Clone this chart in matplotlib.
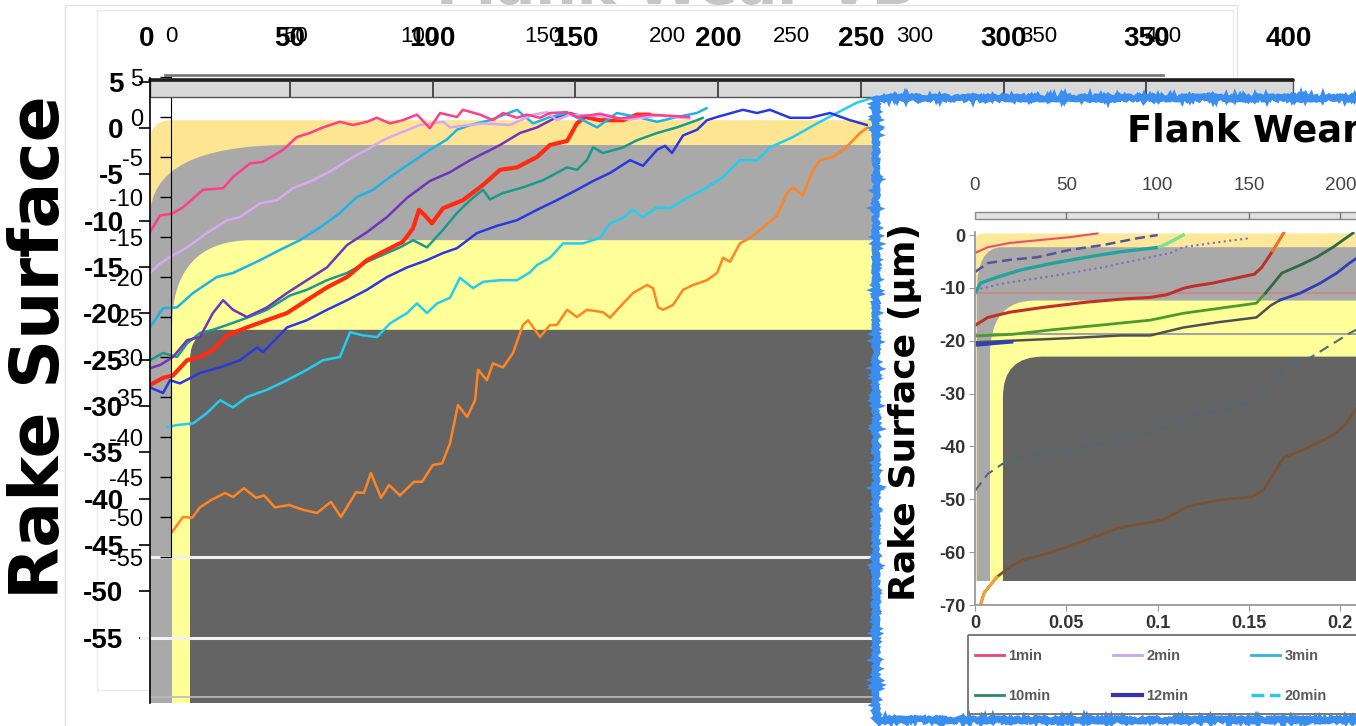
import matplotlib
matplotlib.use("Agg")
import matplotlib.pyplot as plt
from matplotlib import font_manager
from matplotlib.patches import FancyBboxPatch, Rectangle
from matplotlib.lines import Line2D

W, H, DPI = 1356, 726, 100

_names = {f.name for f in font_manager.fontManager.ttflist}
NUM_FONT = "Liberation Sans Narrow" if "Liberation Sans Narrow" in _names else "Liberation Sans"
plt.rcParams["font.family"] = [NUM_FONT, "DejaVu Sans"]
plt.rcParams["axes.unicode_minus"] = False

# ---- main panel series (flank wear vs rake surface) ----
pink_x = [-8.5, -4.4, 0.4, 4.8, 12.9, 21, 25, 31.9, 37.1, 45.2, 50.8, 56, 61.3, 68.1, 73.4, 79, 83, 88.3, 93.5,
          99.2, 104.4, 108.5, 115.3, 117.7, 124.6, 129.8, 133.9, 139.5, 143.5, 148.8, 152.8, 159.7, 163.7, 173,
          181, 193, 209]
pink_y = [-14.4, -12.3, -12.1, -11.3, -9.1, -8.9, -7.5, -5.8, -5.6, -4.1, -2.5, -2, -1.3, -0.6, -1, -0.6, -0.1,
          -0.8, -0.4, 0.3, -1.4, 0.5, 0, 0.9, 0.3, -0.4, 0.5, -0.1, 0.3, -0.1, 0.5, 0.6, 0, 0.4, -0.2, 0.3, 0]

lav_x = [-8.5, -4.4, 0.8, 6.5, 14.5, 22.6, 27.8, 35.9, 42.7, 49.2, 57.3, 65.3, 73.4, 79, 85.5, 92.3, 100.4, 109.7,
         112.5, 125.8, 136.7, 146, 151.6, 155.6, 160.9, 173, 185, 197, 209]
lav_y = [-19.5, -18.3, -17.3, -16.3, -14.5, -12.9, -12.5, -10.8, -10.4, -8.9, -7.9, -6.6, -5, -4.1, -2.9, -2, -1,
         -0.6, -1.3, -0.8, -1, 0.3, 0.6, -0.4, 0.3, 0.1, -0.3, 0.2, -0.2]

sky_x = [-8.5, -3.2, 2.4, 8.9, 18.5, 25, 35.9, 44, 52, 60.1, 68.1, 75, 81.5, 88.3, 96.4, 104.4, 111.3, 115.3, 120.6,
         128.6, 139.5, 146, 152.8, 159.7, 166.1, 171.8, 179.8, 187.9, 196, 204, 212, 216]
sky_y = [-26.3, -23.9, -23.8, -22, -20, -19.5, -17.9, -16.6, -15.4, -13.8, -12, -10, -9.1, -7.5, -5.8, -4.1, -2.8,
         -1.6, -1, -0.4, 0.9, -0.8, 0, 0.5, -0.4, -1.3, 0.5, 0, -0.6, 0, 0.5, 1.1]

purple_x = [-8.5, -4.4, 0.8, 6.5, 11.7, 16.9, 21, 25, 30.6, 38.7, 46.8, 54.8, 62.9, 71, 79, 87.1, 95.2, 104.4, 112.5,
            120.6, 132.7, 140.7, 147.6, 155.6, 160.9, 166.9, 173]
purple_y = [-31.4, -31, -30, -27.9, -27.5, -24.5, -22.9, -24.1, -25, -23.8, -22, -20.4, -18.8, -16, -14.4, -12.5,
            -10.1, -8, -6.9, -5.4, -3.5, -2, -1.3, 0, 0.5, 0, 0.3]

red_x = [-8.5, -3.2, 0.8, 6.5, 11.7, 16.9, 22.6, 30.6, 38.7, 46.8, 54.8, 62.9, 71, 79, 87.1, 93.5, 97.6, 100, 102.4,
         105.2, 109.7, 117.7, 125.8, 132.7, 139.5, 147.6, 152.8, 159.7, 163.7, 166.9, 173, 182.3, 187.9, 193]
red_y = [-33.5, -32.6, -32.3, -30.4, -30, -29.1, -27.3, -26.3, -25.4, -24.5, -22.9, -21.3, -20, -17.9, -16.6, -15.6,
         -13.9, -11.6, -12.3, -13.3, -11.4, -10.4, -8.5, -6.6, -6.3, -5, -3.5, -3, -0.8, 0, -0.4, -0.4, 0.3, 0.3]

teal_x = [-8.5, -3.2, 2.4, 6.5, 11.7, 16.9, 22.6, 30.6, 38.7, 48, 54.8, 62.9, 71, 79, 87.1, 92.3, 97.6, 103.2, 109.7,
          115.3, 120.6, 125.8, 128.6, 133.9, 141.9, 150, 159.7, 163.7, 167.7, 170.2, 174.2, 182.3, 187.9, 196, 204,
          212.1, 214.5]
teal_y = [-30.4, -29.5, -30, -28.3, -27, -26.6, -26, -25.1, -24.1, -22.3, -21.6, -20.4, -19.5, -18.1, -17, -16.3,
          -15.4, -16.3, -14.1, -12, -10.4, -9.1, -10.3, -9.5, -8.8, -7.9, -6.3, -6.6, -5.4, -3.8, -4.5, -3.8, -2.9,
          -2, -1.3, -0.4, -0.1]

blue_x = [-8.5, -3.2, -0.4, 3.6, 11.7, 19.8, 27.8, 34.7, 37.1, 46.8, 54.8, 62.9, 71, 79, 87.1, 95.2, 103.2, 109.7,
          115.3, 123.4, 131.5, 139.5, 147.6, 155.6, 163.7, 170.2, 177, 185.1, 190.3, 196, 199.2, 202, 206.5, 212.1,
          216.1, 220.2, 230.6, 236.3, 241.5, 249.6, 257.7, 265.7, 273.8, 280.6]
blue_y = [-33.8, -34.5, -32.9, -33.3, -32, -31.3, -30.4, -28.8, -29.4, -26.3, -25.4, -24.1, -22.9, -21.6, -20, -18.8,
          -17.9, -17, -16.4, -14.5, -13.6, -12.9, -11.6, -10.4, -9.1, -8, -7, -5.4, -6.1, -4.1, -3.6, -4.5, -2.3,
          -1.6, -0.4, 0, 0.9, 0.5, 0.9, -0.1, -0.1, 0.5, -0.4, -1]

cyan_x = [-1.6, 2.4, 8.9, 14.5, 19.8, 25, 30.6, 38.7, 46.8, 54.8, 61.3, 68.1, 72.2, 77.4, 83.1, 88.3, 95.2, 99.2,
          103.2, 107.3, 112.5, 116.5, 121.8, 125.8, 132.7, 139.5, 144.8, 147.6, 152.8, 158.1, 166.1, 173, 177, 182.3,
          186.3, 190.3, 196, 201.2, 206.5, 214.5, 222.6, 229.4, 236.3, 241.5, 250.8, 260.5, 268.5, 276.6, 283]
cyan_y = [-38.8, -38.5, -38.3, -37, -35.4, -36.3, -35, -34.1, -32.9, -31.6, -30.4, -30, -26.9, -27.3, -27.5, -25.8,
          -24.5, -23.3, -24.5, -23.3, -22.6, -20.1, -21.4, -20.6, -20.4, -20.4, -19.4, -18.5, -17.6, -15.8, -15.8,
          -15.1, -13.3, -12.6, -11.6, -12.5, -11.3, -11.4, -10.4, -9.1, -7.5, -5.4, -5.4, -3.8, -2.5, -0.8, 0.5, 1.8,
          2.4]

orange_x = [0.4, 4.8, 8.5, 11.7, 16.1, 21.8, 25, 29.4, 34.3, 37.5, 41.9, 47.6, 53.2, 58.9, 64.5, 68.5, 74.6, 77.8,
            80.6, 84.7, 87.9, 92.3, 98, 101.2, 105.6, 109.3, 112.5, 115.7, 119.4, 122.6, 123.8, 127.4, 129.8, 133.9,
            137.9, 141.9, 144, 148.8, 152.8, 155.6, 159.7, 163.7, 167.7, 174.2, 177, 182.3, 186.3, 191.9, 194.4,
            196.4, 198.4, 202.4, 206.5, 210.5, 216.1, 220.2, 222.6, 225.4, 229.4, 233.5, 238.7, 244.4, 248.4, 250.8,
            254.8, 258.9, 261.7, 266.9, 271, 273.8, 277.8, 281]
orange_y = [-51.9, -50, -50.1, -48.8, -47.9, -47, -47.5, -46.4, -47.6, -47.3, -48.8, -48.5, -49.1, -49.5, -48.1, -50,
            -46.9, -47, -44.5, -47.6, -46, -47.3, -45.6, -45.6, -43.5, -43.3, -40.8, -36, -37.5, -35.4, -31.6, -32.9,
            -30.8, -31.3, -29.5, -26, -25.4, -27.5, -26, -26, -24.1, -25, -24.1, -24.4, -25.1, -23.3, -22, -21, -21.4,
            -23.8, -24.1, -23.5, -21.6, -21, -20.4, -19.5, -17.6, -18.1, -15.8, -15.1, -13.8, -12.3, -9.5, -8.8,
            -9.8, -6.6, -5.4, -5, -4.1, -3.3, -2, -1.3]

main_series = [
    (orange_x, orange_y, "#ff8424", 1.8),
    (cyan_x, cyan_y, "#22cdee", 1.8),
    (blue_x, blue_y, "#2a38e0", 1.8),
    (teal_x, teal_y, "#1a9a8c", 1.8),
    (red_x, red_y, "#ff2a10", 3.0),
    (purple_x, purple_y, "#7035b8", 1.8),
    (sky_x, sky_y, "#1cb4e6", 1.8),
    (lav_x, lav_y, "#d8a8f2", 1.8),
    (pink_x, pink_y, "#ff3d8b", 1.8),
]

ticks_small_y = list(range(-55, 6, 5))
ticks_big_y = list(range(-55, 6, 5))
ticks_top = list(range(0, 401, 50))

# ---- inset series (rake surface in um vs flank wear in mm) ----
in_pink_x = [0, 0.007, 0.019, 0.034, 0.052, 0.067]
in_pink_y = [-3.4, -2.3, -1.5, -1.0, -0.4, 0.3]
in_navy_x = [0, 0.007, 0.019, 0.034, 0.052, 0.07, 0.089, 0.1]
in_navy_y = [-7.0, -5.3, -4.7, -4.2, -2.8, -1.9, -0.6, 0.0]
in_teal_x = [0, 0.003, 0.012, 0.025, 0.043, 0.061, 0.079, 0.101]
in_teal_y = [-11.0, -9.1, -8.0, -6.6, -5.3, -4.2, -3.2, -2.3]
in_lime_x = [0.101, 0.107, 0.114]
in_lime_y = [-2.3, -1.3, 0.0]
in_violet_x = [0, 0.016, 0.034, 0.052, 0.07, 0.089, 0.107, 0.114, 0.13, 0.15]
in_violet_y = [-10.4, -9.1, -8.2, -7.2, -6.1, -4.7, -3.4, -2.3, -1.5, -0.6]
in_red_x = [0, 0.007, 0.019, 0.037, 0.061, 0.081, 0.096, 0.105, 0.114, 0.119, 0.13, 0.153, 0.157, 0.163]
in_red_y = [-17.1, -15.6, -14.6, -13.7, -12.7, -12.1, -11.8, -11.3, -10.1, -9.7, -9.1, -7.4, -6.1, -3.0]
in_redtip_x = [0.163, 0.169]
in_redtip_y = [-3.0, 0.4]
in_green_x = [0, 0.02, 0.043, 0.07, 0.096, 0.114, 0.133, 0.154, 0.159]
in_green_y = [-19.1, -18.8, -17.9, -17.0, -16.1, -14.8, -13.9, -12.9, -11.0]
in_dgreen_x = [0.159, 0.168, 0.178, 0.187, 0.196, 0.207]
in_dgreen_y = [-11.0, -7.2, -5.7, -4.2, -2.3, 0.4]
in_gray_x = [0, 0.026, 0.052, 0.08, 0.096, 0.114, 0.133, 0.154, 0.162, 0.167]
in_gray_y = [-20.3, -19.9, -19.5, -19.0, -19.0, -17.5, -16.5, -15.6, -13.3, -12.3]
in_blue_x = [0.167, 0.178, 0.189, 0.198, 0.205, 0.215, 0.23]
in_blue_y = [-12.3, -11.0, -9.1, -7.2, -5.3, -3.0, 0.0]
in_bluestart_x = [0, 0.02]
in_bluestart_y = [-20.8, -20.2]
in_slate_x = [0, 0.007, 0.015, 0.025, 0.052, 0.07, 0.089, 0.103, 0.116, 0.134, 0.152, 0.161, 0.168, 0.184, 0.205,
              0.23]
in_slate_y = [-48.4, -45.2, -43.3, -42.1, -40.8, -39.3, -38.0, -36.6, -34.5, -33.2, -31.7, -28.8, -25.6, -23.1,
              -18.6, -14.0]
in_brown_x = [0.003, 0.005, 0.012, 0.019, 0.026, 0.043, 0.061, 0.079, 0.103, 0.116, 0.134, 0.152, 0.158, 0.169, 0.18,
              0.195, 0.202, 0.207, 0.215]
in_brown_y = [-70, -67.7, -64.7, -62.8, -61.5, -59.9, -57.7, -55.4, -53.9, -51.4, -50.1, -49.5, -48.2, -42.1, -40.6,
              -38.1, -36.2, -33.6, -30.0]

in_xticks = [0, 0.05, 0.1, 0.15, 0.2, 0.25]
in_xtick_labels = ["0", "0.05", "0.1", "0.15", "0.2", "0.25"]
in_yticks = list(range(-70, 1, 10))
in_top_ticks = list(range(0, 301, 50))
in_ref_lines = [(-11.0, "#c38c8c"), (-18.8, "#a3a3a3")]

legend_labels = ["1min", "10min", "2min", "12min", "3min", "20min"]
legend_colors = ["#e8457a", "#2e8a66", "#c9a6e8", "#3434a6", "#3ab0e0", "#30c8e8"]
legend_styles = ["-", "-", "-", "-", "-", "--"]
legend_widths = [2.0, 2.0, 2.0, 3.0, 2.0, 2.5]


fig = plt.figure(figsize=(W / DPI, H / DPI), dpi=DPI)


def add_px_axes(left, top, right, bottom, z):
    ax = fig.add_axes([left / W, 1 - bottom / H, (right - left) / W, (bottom - top) / H])
    ax.set_zorder(z)
    ax.patch.set_visible(False)
    return ax


def rounded(ax, x0, y0, w, h, r, aspect, color, z):
    ax.add_patch(FancyBboxPatch((x0, y0), w, h, boxstyle=f"round,pad=0,rounding_size={r}",
                                mutation_aspect=aspect, fc=color, ec="none", zorder=z))


# background canvas: faint frames and the washed-out title
ax_bg = add_px_axes(0, 0, W, H, 0)
ax_bg.set_xlim(0, W)
ax_bg.set_ylim(H, 0)
ax_bg.axis("off")
ax_bg.add_patch(Rectangle((65, 5), 1172, 760, fill=False, ec="#e3e3e3", lw=1))
ax_bg.add_patch(Rectangle((97, 10), 1136, 680, fill=False, ec="#ebebeb", lw=1))
ax_bg.text(676, 4, "Flank Wear VB", ha="center", va="baseline", fontsize=42, fontweight="bold",
           family="DejaVu Sans", color="#c6c6c6")
fig.text(40 / W, 1 - 347 / H, "Rake Surface", rotation=90, ha="center", va="center", fontsize=49,
         fontweight="bold", family="DejaVu Sans")

# small-scale axis carries the curves and zone shading
ax_s = add_px_axes(150, 75, 1290, 703, 1)
ax_s.set_xlim(-8.468, 451.2)
ax_s.set_ylim(-73.25, 5.25)
rounded(ax_s, -8.47, -120, 600, 119.6, 8.9, 0.31, "#fde592", 0.1)
rounded(ax_s, -8.47, -120, 600, 116.5, 56.5, 0.16, "#a9a9a9", 0.2)
rounded(ax_s, 0.4, -120, 600, 104.6, 32.3, 0.337, "#ffff9a", 0.3)
rounded(ax_s, 7.66, -120, 600, 93.4, 12.1, 0.31, "#646464", 0.4)
ax_s.axhline(-55, color="#f0f0f0", lw=2.2, zorder=0.8)
ax_s.axhline(-72.5, color="#bcbcbc", lw=1.2, zorder=0.8)
for xs, ys, c, lw in main_series:
    ax_s.plot(xs, ys, color=c, lw=lw, solid_joinstyle="round", solid_capstyle="round", zorder=2)

for side in ("right", "bottom"):
    ax_s.spines[side].set_visible(False)
ax_s.spines["left"].set_position(("data", 0))
ax_s.spines["left"].set_bounds(-55, 5.25)
ax_s.spines["top"].set_bounds(-2.4, 400)
ax_s.spines["top"].set_color("#7a7a7a")
ax_s.spines["top"].set_linewidth(2)
ax_s.set_yticks(ticks_small_y)
ax_s.tick_params(axis="y", length=8, width=1, pad=12, labelsize=17)
ax_s.xaxis.tick_top()
ax_s.set_xticks(ticks_top)
ax_s.tick_params(axis="x", length=0, pad=20, labelsize=16)

# large-scale axis overlaid on top with its own ticks and header bar
ax_b = add_px_axes(140, 78, 1293, 703, 2)
ax_b.set_xlim(-2.452, 401.4)
ax_b.set_ylim(-62.03, 5.394)
ax_b.add_patch(Rectangle((1.05, 3.344), 400.35, 1.834, fc="#d9d9d9", ec="#555555", lw=1, clip_on=False))
ax_b.plot([1.05, 401.4], [5.18, 5.18], color="#1e1e1e", lw=2.6, clip_on=False, solid_capstyle="round")
ax_b.vlines(ticks_top[1:-1], 3.344, 5.18, colors="#333333", lw=1.2, clip_on=False)
ax_b.axhline(-55, color="#f2f2f2", lw=2.2)
for side in ("right", "bottom", "top"):
    ax_b.spines[side].set_visible(False)
ax_b.spines["left"].set_position(("data", 1.05))
ax_b.spines["left"].set_linewidth(1.2)
ax_b.set_yticks(ticks_big_y)
ax_b.tick_params(axis="y", length=8, width=1.2, pad=11, labelsize=20)
ax_b.xaxis.tick_top()
ax_b.set_xticks(ticks_top)
ax_b.tick_params(axis="x", length=0, pad=19, labelsize=20)
for lbl in ax_b.get_xticklabels() + ax_b.get_yticklabels():
    lbl.set_fontweight("bold")

# inset frame
ax_box = add_px_axes(0, 0, W, H, 3)
ax_box.set_xlim(0, W)
ax_box.set_ylim(H, 0)
ax_box.axis("off")
ax_box.add_patch(Rectangle((876, 98), 600, 622, fc="white", ec="none"))
edge = Rectangle((876, 98), 600, 622, fill=False, ec="#3a8ef0", lw=4.2)
edge.set_sketch_params(scale=1.6, length=3, randomness=8)
ax_box.add_patch(edge)
ax_box.text(1127, 131, "Flank Wear VB (mm)", ha="left", va="center", fontsize=26.5, fontweight="bold",
            family="DejaVu Sans")
ax_box.text(905, 412, "Rake Surface (μm)", rotation=90, ha="center", va="center", fontsize=26,
            fontweight="bold", family="DejaVu Sans")
ax_box.add_patch(Rectangle((968, 635), 500, 79, fill=False, ec="#7a7a7a", lw=1.4))

# inset plot
ax_in = add_px_axes(975, 232.4, 1523, 605, 4)
ax_in.set_xlim(0, 0.3)
ax_in.set_ylim(-70, 0.5)
rounded(ax_in, -0.001, -90, 0.5, 90.3, 0.0066, 345, "#fce79a", 0.1)
rounded(ax_in, 0.001, -90, 0.5, 87.7, 0.0137, 620, "#a9a9a9", 0.2)
rounded(ax_in, 0.0082, -90, 0.5, 77.6, 0.0246, 423, "#ffff9a", 0.3)
rounded(ax_in, 0.0153, -90, 0.5, 67.0, 0.0219, 347, "#646464", 0.4)
ax_in.add_patch(Rectangle((-0.01, -80), 0.5, 14.5, fc="white", ec="none", zorder=0.5))
for yv, c in in_ref_lines:
    ax_in.axhline(yv, color=c, lw=1.5, zorder=0.6)

ax_in.plot(in_brown_x, in_brown_y, color="#7a5232", lw=2.0, zorder=2)
ax_in.plot(in_brown_x[:3], in_brown_y[:3], color="#f5a030", lw=2.0, zorder=2.1)
ax_in.plot(in_slate_x, in_slate_y, color="#4f6a74", lw=1.5, ls=(0, (5, 3)), zorder=2)
ax_in.plot(in_gray_x, in_gray_y, color="#505050", lw=1.8, zorder=2)
ax_in.plot(in_bluestart_x, in_bluestart_y, color="#2f3fb8", lw=2.6, zorder=2)
ax_in.plot(in_blue_x, in_blue_y, color="#2f3fb8", lw=2.0, zorder=2)
ax_in.plot(in_green_x, in_green_y, color="#4d9a2c", lw=2.0, zorder=2)
ax_in.plot(in_dgreen_x, in_dgreen_y, color="#2f6a45", lw=2.0, zorder=2)
ax_in.plot(in_red_x, in_red_y, color="#c0302a", lw=2.2, zorder=2)
ax_in.plot(in_redtip_x, in_redtip_y, color="#f07020", lw=2.2, zorder=2)
ax_in.plot(in_violet_x, in_violet_y, color="#7d6cc8", lw=1.5, ls=":", zorder=2)
ax_in.plot(in_teal_x, in_teal_y, color="#23a39f", lw=2.4, zorder=2)
ax_in.plot(in_lime_x, in_lime_y, color="#7de08a", lw=2.4, zorder=2)
ax_in.plot(in_navy_x, in_navy_y, color="#54549a", lw=1.8, ls=(0, (4, 2)), zorder=2)
ax_in.plot(in_pink_x, in_pink_y, color="#e8506a", lw=1.5, zorder=2)

for side in ("right", "top"):
    ax_in.spines[side].set_visible(False)
for side in ("left", "bottom"):
    ax_in.spines[side].set_color("#9a9a9a")
    ax_in.spines[side].set_linewidth(1.3)
ax_in.set_yticks(in_yticks)
ax_in.set_xticks(in_xticks)
ax_in.set_xticklabels(in_xtick_labels)
ax_in.tick_params(length=4, color="#9a9a9a", labelsize=13, labelcolor="#333333", pad=3)
for lbl in ax_in.get_xticklabels() + ax_in.get_yticklabels():
    lbl.set_fontweight("bold")

sec = ax_in.secondary_xaxis("top", functions=(lambda v: v * 1000, lambda v: v / 1000))
sec.set_xticks(in_top_ticks)
sec.tick_params(length=0, pad=28, labelsize=13.5, labelcolor="#444444")
sec.spines["top"].set_visible(False)
ax_in.add_patch(Rectangle((0, 3.04), 0.3, 1.32, fc="#e2e2e2", ec="#8a8a8a", lw=1, clip_on=False))
ax_in.vlines(in_xticks[1:], 3.04, 4.36, colors="#777777", lw=1, clip_on=False)

handles = [Line2D([], [], color=c, ls=s, lw=w) for c, s, w in zip(legend_colors, legend_styles, legend_widths)]
ax_in.legend(handles, legend_labels, ncol=3, loc="upper left", bbox_to_anchor=(962 / W, 1 - 636 / H),
             bbox_transform=fig.transFigure, frameon=False, borderaxespad=0, borderpad=0.9,
             labelspacing=1.8, columnspacing=4.3, handlelength=2.0, handletextpad=0.28,
             prop={"weight": "bold", "size": 10.5}, labelcolor="#5a5a5a")

fig.savefig("out.png", dpi=DPI)
